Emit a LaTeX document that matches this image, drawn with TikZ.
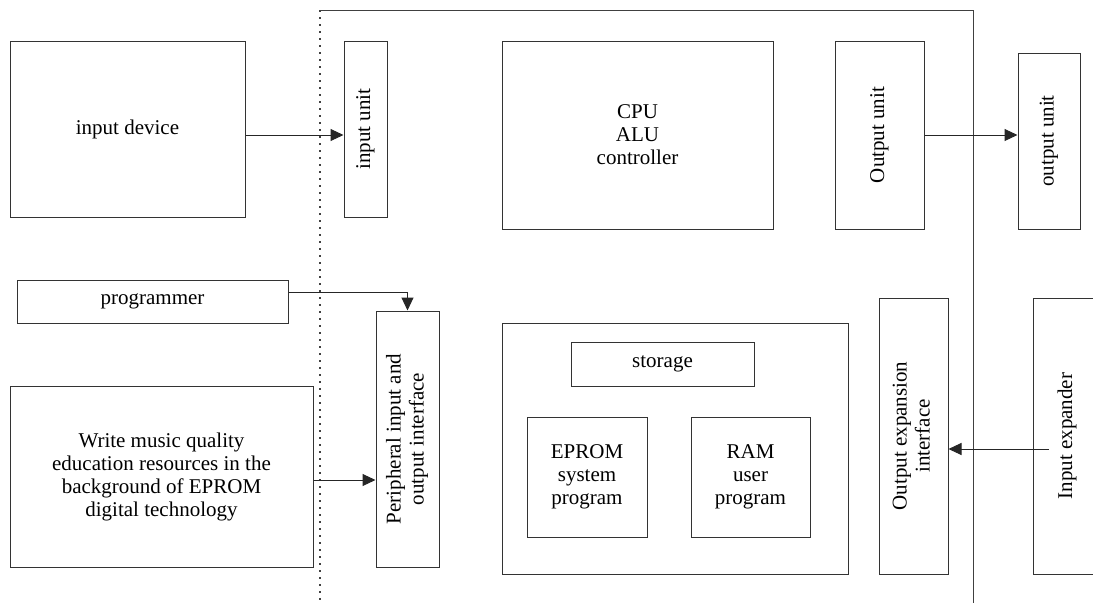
\documentclass[tikz,border=0pt]{standalone}
\usepackage{fontspec}
\setmainfont{Liberation Serif}
\usetikzlibrary{arrows.meta}
\begin{document}
\begin{tikzpicture}[x=1pt,y=-1pt,
  font=\fontsize{21}{23}\selectfont,
  box/.style={draw=black!80, line width=1pt, rectangle, inner sep=0pt, align=center},
  arr/.style={draw=black!85, line width=1pt, -{Triangle[length=13pt,width=12pt]}},
  frame/.style={draw=black!75, line width=1pt},
  dotline/.style={draw=black!75, line width=1.6pt, dash pattern=on 1.6pt off 5.4pt}]
\useasboundingbox (0,0) rectangle (1093,603);
\begin{scope}
\clip (0,0) rectangle (1093,603);
% frame
\coordinate (ftl) at (320,10);
\coordinate (fbl) at (320,603);
\coordinate (ftr) at (973,10);
\coordinate (fbr) at (973,603);
\draw[dotline] (ftl) -- (fbl);
\draw[frame] (ftl) -- (ftr) -- (fbr);
% boxes
\node[box, minimum width=235pt, minimum height=176pt] (indev) at (127.5,129) {input device};
\node[box, minimum width=43pt, minimum height=176pt] (inunit) at (365.5,129) {\rotatebox{90}{input unit}};
\node[box, minimum width=271pt, minimum height=188pt] (cpu) at (637.5,135) {CPU\\ALU\\controller};
\node[box, minimum width=89pt, minimum height=188pt] (outunit) at (879.5,135) {\rotatebox{90}{Output unit}};
\node[box, minimum width=62pt, minimum height=176pt] (outdev) at (1049,141) {\rotatebox{90}{output unit}};
\node[box, minimum width=271pt, minimum height=43pt] (prog) at (152.5,301.5) {programmer};
\node[box, minimum width=63pt, minimum height=256pt] (periph) at (407.5,439) {\rotatebox{90}{\begin{tabular}{@{}c@{}}Peripheral input and\\output interface\end{tabular}}};
\node[box, minimum width=303pt, minimum height=181pt] (write) at (161.5,476.5) {Write music quality\\education resources in the\\background of EPROM\\digital technology};
\node[box, minimum width=346pt, minimum height=251pt] (mem) at (675,448.5) {};
\node[box, minimum width=183pt, minimum height=44pt] (storage) at (662.5,364) {storage};
\node[box, minimum width=120pt, minimum height=120pt] (eprom) at (587,477) {EPROM\\system\\program};
\node[box, minimum width=119pt, minimum height=120pt] (ram) at (750.5,477) {RAM\\user\\program};
\node[box, minimum width=69pt, minimum height=276pt] (outexp) at (913.5,436) {\rotatebox{90}{\begin{tabular}{@{}c@{}}Output expansion\\interface\end{tabular}}};
\node[box, minimum width=68pt, minimum height=276pt] (inexp) at (1067,436) {\rotatebox{90}{Input expander}};
% connectors
\draw[arr] ([yshift=-6pt]indev.east) -- ([yshift=-6pt]inunit.west);
\draw[arr] (outunit.east) -- (outunit.east -| outdev.west);
\draw[arr] ([yshift=9.5pt]prog.east) -| (periph.north);
\draw[arr] ([yshift=-3.5pt]write.east) -- ([yshift=-3.5pt]write.east -| periph.west);
\coordinate (ie) at (1049,449);
\draw[arr] (ie) -- (ie -| outexp.east);
\end{scope}
\end{tikzpicture}
\end{document}
